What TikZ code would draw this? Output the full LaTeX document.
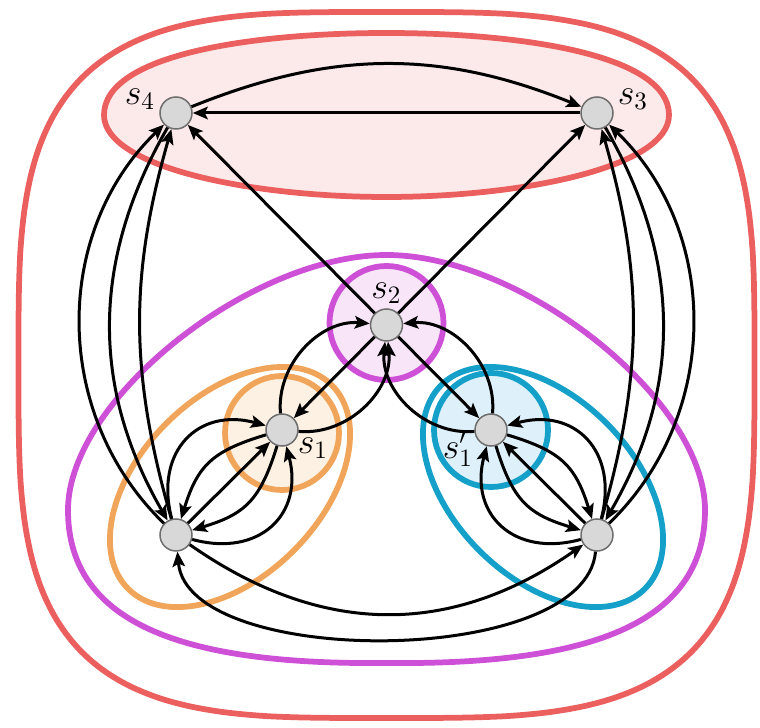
\documentclass[tikz,border=0pt]{standalone}
\usetikzlibrary{arrows.meta}

\definecolor{rosso}{RGB}{235,95,95}
\definecolor{rosaF}{RGB}{252,233,233}
\definecolor{viola}{RGB}{205,80,215}
\definecolor{violaF}{RGB}{248,230,248}
\definecolor{arancio}{RGB}{240,165,90}
\definecolor{arancioF}{RGB}{253,241,227}
\definecolor{azzurro}{RGB}{20,160,200}
\definecolor{azzurroF}{RGB}{222,241,250}
\definecolor{grigioF}{RGB}{216,216,216}
\definecolor{grigioB}{RGB}{110,110,110}

\begin{document}
\begin{tikzpicture}[x=0.4pt, y=0.4pt,
    >={Stealth[length=6pt, width=5pt, inset=1.2pt]}, line width=1.2pt,
    stato/.style={circle, fill=grigioF, draw=grigioB,
        inner sep=0pt, minimum size=12.8pt,
        line width=0.6pt},
    arco/.style={->, line width=1.2pt, black},
    etich/.style={font=\Large, inner sep=0pt},
    bordo/.style={line width=2.3pt, line join=round}]

    \useasboundingbox (0,0) rectangle (760,727);

    \def\xm{386.5}   %% asse di simmetria
    \def\yT{614}     %% quota s4, s3
    \def\yB{192}     %% quota stati in basso
    \def\ep{0.571}   %% esponente superellisse (n = 3.5)

    %% --- insieme esterno (superellisse) ---
    \draw[bordo, rosso] plot[domain=1.5:358.5, samples=120, smooth cycle, variable=\t]
        ({\xm+368*sign(cos(\t))*abs(cos(\t))^\ep},
         {362+353*sign(sin(\t))*abs(sin(\t))^\ep});

    %% --- insieme in alto: s4, s3 ---
    \filldraw[bordo, draw=rosso, fill=rosaF] (104,612)
        .. controls (104,672) and (250,694) .. (\xm,694)
        .. controls (523,694) and (669,672) .. (669,612)
        .. controls (669,560) and (523,530) .. (\xm,530)
        .. controls (250,530) and (104,560) .. (104,612) -- cycle;

    %% --- insieme viola grande ---
    \draw[bordo, viola] (\xm,64)
        .. controls (190,62) and (68,100) .. (68,217)
        .. controls (68,327) and (250,472) .. (\xm,472)
        .. controls (523,472) and (705,327) .. (705,217)
        .. controls (705,100) and (583,62) .. (\xm,64) -- cycle;

    %% --- cerchi piccoli ---
    \filldraw[bordo, draw=viola, fill=violaF] (\xm,404) circle[radius=57];
    \filldraw[bordo, draw=arancio, fill=arancioF] (282,294) circle[radius=57];
    \filldraw[bordo, draw=azzurro, fill=azzurroF] (491,297) circle[radius=57];

    %% --- ellissi inclinate ---
    \draw[bordo, arancio, rotate around={45:(230,240)}] (230,240) ellipse[x radius=144, y radius=90];
    \draw[bordo, azzurro, rotate around={-45:(543,240)}] (543,240) ellipse[x radius=144, y radius=90];

    %% --- stati ---
    \node[stato] (s4) at (176,\yT) {};
    \node[stato] (s3) at (597,\yT) {};
    \node[stato] (s2) at (\xm,402) {};
    \node[stato] (s1) at (282,297) {};
    \node[stato] (s1p) at (491,297) {};
    \node[stato] (bl) at (176,\yB) {};
    \node[stato] (br) at (597,\yB) {};

    \node[etich] (s4t) at (140,628) {$s_4$};
    \node[etich] (s3t) at (633,628) {$s_3$};
    \node[etich] (s2t) at (\xm,434) {$s_2$};
    \node[etich] (s1t) at (313,279) {$s_1$};
    \node[etich] (s1pt) at (458,278) {$s_1'$};

    %% --- archi in alto ---
    \draw[arco] (s4) to[bend left=22] (s3);
    \draw[arco] (s3) -- (s4);
    \draw[arco] (s2) -- (s4);
    \draw[arco] (s2) -- (s3);

    %% --- archi laterali verso s4, s3 ---
    \draw[arco] (bl) to[bend left=46] (s4);
    \draw[arco] (s4) to[bend right=30] (bl);
    \draw[arco] (bl) to[bend left=16] (s4);
    \draw[arco] (br) to[bend right=46] (s3);
    \draw[arco] (s3) to[bend left=30] (br);
    \draw[arco] (br) to[bend right=16] (s3);

    %% --- s1, s1' con s2 ---
    \draw[arco] (s1) to[bend left=50] (s2);
    \draw[arco] (s2) -- (s1);
    \draw[arco] (s1) to[bend right=50] (s2);
    \draw[arco] (s1p) to[bend right=50] (s2);
    \draw[arco] (s2) -- (s1p);
    \draw[arco] (s1p) to[bend left=50] (s2);

    %% --- ventaglio sx: bl <-> s1 ---
    \draw[arco] (bl) to[bend left=60, looseness=1.35] (s1);
    \draw[arco] (s1) to[bend right=28, looseness=1.2] (bl);
    \draw[arco] (bl) -- (s1);
    \draw[arco] (s1) to[bend left=28, looseness=1.2] (bl);
    \draw[arco] (bl) to[bend right=60, looseness=1.35] (s1);

    %% --- ventaglio dx: br <-> s1' (speculare) ---
    \draw[arco] (br) to[bend right=60, looseness=1.35] (s1p);
    \draw[arco] (s1p) to[bend left=28, looseness=1.2] (br);
    \draw[arco] (br) -- (s1p);
    \draw[arco] (s1p) to[bend right=28, looseness=1.2] (br);
    \draw[arco] (br) to[bend left=60, looseness=1.35] (s1p);

    %% --- archi in basso ---
    \draw[arco] (bl) to[out=-35, in=-145, looseness=1.05] (br);
    \draw[arco] (br) to[out=-95, in=-85, looseness=0.72] (bl);

\end{tikzpicture}
\end{document}
